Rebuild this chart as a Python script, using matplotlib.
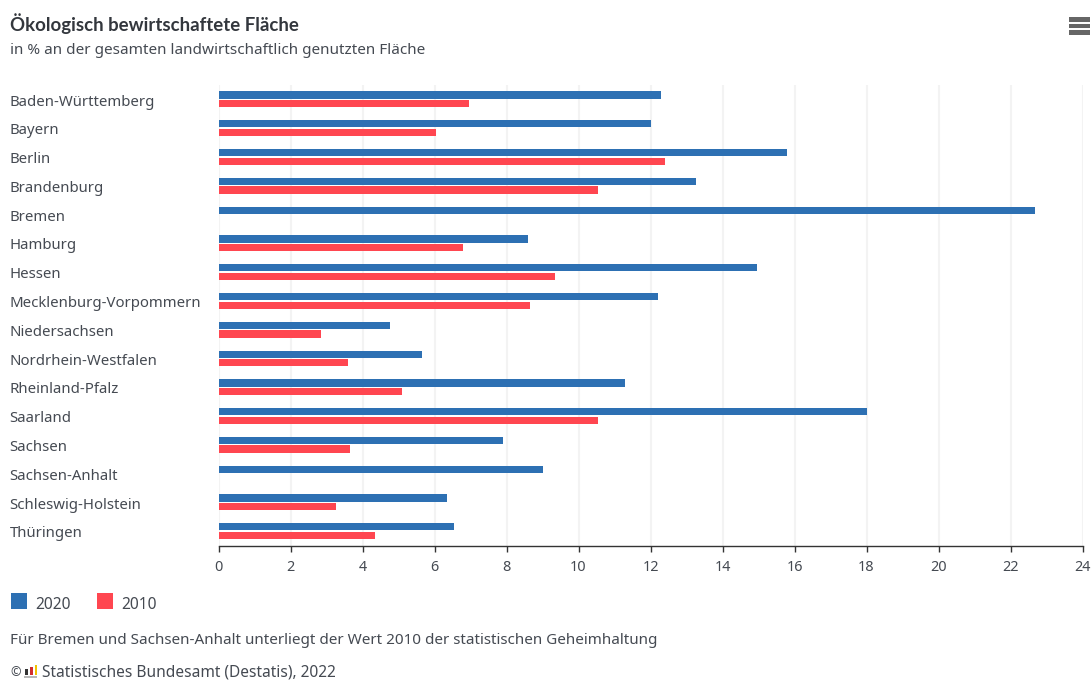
import matplotlib
matplotlib.use("Agg")
import matplotlib.pyplot as plt
from matplotlib.patches import Rectangle
import numpy as np

states = ["Baden-Württemberg", "Bayern", "Berlin", "Brandenburg", "Bremen", "Hamburg", "Hessen",
          "Mecklenburg-Vorpommern", "Niedersachsen", "Nordrhein-Westfalen", "Rheinland-Pfalz",
          "Saarland", "Sachsen", "Sachsen-Anhalt", "Schleswig-Holstein", "Thüringen"]
values_2020 = [12.3, 12.0, 15.8, 13.25, 22.67, 8.6, 14.95, 12.2, 4.75, 5.65, 11.3, 18.0, 7.9, 9.0, 6.35, 6.55]
values_2010 = [6.95, 6.05, 12.4, 10.55, None, 6.8, 9.35, 8.65, 2.85, 3.6, 5.1, 10.55, 3.65, None, 3.25, 4.35]
x_ticks = list(range(0, 25, 2))

BLUE = "#2d70b3"
RED = "#ff4650"
TEXT = "#454a52"
W, H = 1092, 681
plt.rcParams["font.family"] = ["Noto Sans", "DejaVu Sans"]

fig = plt.figure(figsize=(W / 100, H / 100), dpi=100)
L, R, T, B = 218.5, 1082.5, 85.0, 545.5
ax = fig.add_axes([L / W, 1 - B / H, (R - L) / W, (B - T) / H])

y = np.arange(len(states))
bar_h = 7.2 / 28.8
off = 4.3 / 28.8
ax.barh(y - off, values_2020, height=bar_h, color=BLUE, zorder=3)
ax.barh(y + off, [np.nan if v is None else v for v in values_2010], height=bar_h, color=RED, zorder=3)

ax.set_xlim(0, 24)
ax.set_ylim(len(states) - 0.5, -0.5)
ax.set_xticks(x_ticks)
ax.set_yticks(y)
ax.grid(axis="x", color="#f3f3f3", lw=1.5, zorder=0)
ax.set_axisbelow(True)
for s in ("top", "right", "left"):
    ax.spines[s].set_visible(False)
ax.spines["bottom"].set_color("#333333")
ax.spines["bottom"].set_linewidth(1)
ax.tick_params(axis="x", length=4.5, width=1, color="#333333", labelcolor=TEXT, labelsize=10.4, pad=6)
ax.tick_params(axis="y", length=0, pad=0)
ax.set_yticklabels([])
for yi, name in zip(y, states):
    ax.annotate(name, xy=(9.5 / W, yi), xycoords=("figure fraction", "data"), xytext=(0, -0.5),
                textcoords="offset points", va="center_baseline", ha="left", fontsize=10.75, color=TEXT)


def txt(x, ypx, s, **kw):
    fig.text(x / W, 1 - ypx / H, s, va="center_baseline", ha="left", color=TEXT, **kw)


fig.text(10 / W, 1 - 22.5 / H, "Ökologisch bewirtschaftete Fläche", va="center_baseline", ha="left",
         fontsize=13.45, fontweight="bold", family="Lato", color="#33373d")
txt(9.5, 48, "in % an der gesamten landwirtschaftlich genutzten Fläche", fontsize=11.03)
txt(35, 603, "2020", fontsize=11.2)
txt(121, 603, "2010", fontsize=11.2)
txt(9.5, 639, "Für Bremen und Sachsen-Anhalt unterliegt der Wert 2010 der statistischen Geheimhaltung", fontsize=10.97)
txt(10, 671, "©", fontsize=9)
txt(41.5, 670.5, "Statistisches Bundesamt (Destatis), 2022", fontsize=11.15)


def rect(x, ypx, w, h, c):
    fig.add_artist(Rectangle((x / W, 1 - (ypx + h) / H), w / W, h / H, transform=fig.transFigure, color=c, lw=0))


rect(11, 593, 16, 16, BLUE)
rect(97, 593, 16, 16, RED)
# Destatis logo
rect(24, 676, 13, 2, "#b8b8b8")
rect(25, 669, 3, 6, "#333333")
rect(30, 667, 3, 8, "#d22d2d")
rect(34.5, 665, 2.5, 10, "#f2c200")
# menu icon
for yy in (17.5, 24, 30.5):
    rect(1069, yy, 21, 4, "#666666")

fig.savefig("out.png", dpi=100)
